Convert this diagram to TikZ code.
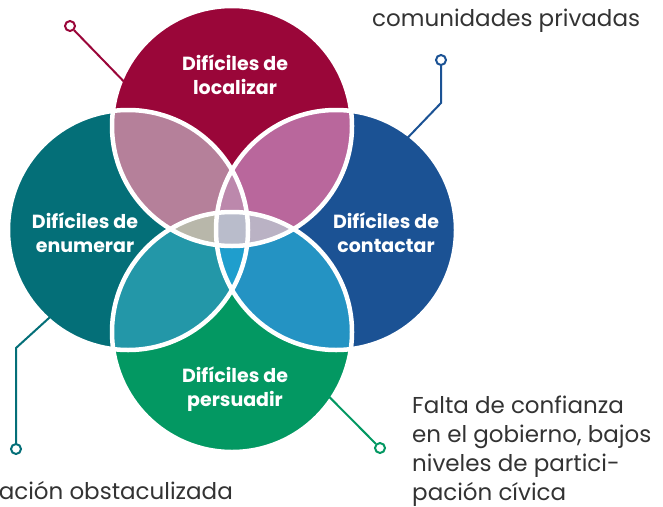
\documentclass[tikz,border=0pt]{standalone}
\usepackage{fontspec}
\setmainfont{Poppins}
\definecolor{locRed}{HTML}{9A0639}
\definecolor{enuTeal}{HTML}{046F78}
\definecolor{conBlue}{HTML}{1B5294}
\definecolor{perGreen}{HTML}{039862}
\definecolor{locEnu}{HTML}{B5809A}
\definecolor{locCon}{HTML}{B9679C}
\definecolor{enuPer}{HTML}{2397A8}
\definecolor{conPer}{HTML}{2493C3}
\definecolor{locEnuCon}{HTML}{BC88AC}
\definecolor{enuConPer}{HTML}{1F9ECD}
\definecolor{locEnuPer}{HTML}{B8B7AA}
\definecolor{locConPer}{HTML}{BAB2C4}
\definecolor{allFour}{HTML}{B9BCCB}
\definecolor{noteGray}{HTML}{333333}
\begin{document}
\begin{tikzpicture}[x = 1pt, y = -1pt, font = \fontsize{23}{29}\selectfont]
	\tikzstyle{vennStyle} = [shape = circle, minimum size = 240pt, inner sep = 0pt, outer sep = 0pt, draw = white, line width = 4.5pt]
	\tikzstyle{labelStyle} = [align = center, text = white, font = \fontsize{19}{24}\selectfont\bfseries]
	\tikzstyle{dotStyle} = [shape = circle, minimum size = 10pt, inner sep = 0pt, draw, line width = 2pt, fill = white]
	\tikzstyle{lineStyle} = [line width = 2pt, shorten <= -3pt]
	\tikzstyle{noteStyle} = [align = left, text = noteGray, anchor = base west, inner sep = 0pt]
	\useasboundingbox (0,0) rectangle (663,506);
	\coordinate (cLoc) at (232,126);
	\coordinate (cEnu) at (128,230);
	\coordinate (cCon) at (336,230);
	\coordinate (cPer) at (232,332);
	\fill[locRed] (cLoc) circle (120);
	\fill[enuTeal] (cEnu) circle (120);
	\fill[conBlue] (cCon) circle (120);
	\fill[perGreen] (cPer) circle (120);
	\begin{scope}
		\clip (cLoc) circle (120);
		\fill[locEnu] (cEnu) circle (120);
		\fill[locCon] (cCon) circle (120);
	\end{scope}
	\begin{scope}
		\clip (cPer) circle (120);
		\fill[enuPer] (cEnu) circle (120);
		\fill[conPer] (cCon) circle (120);
		\clip (cLoc) circle (120);
		\fill[locEnuPer] (cEnu) circle (120);
		\fill[locConPer] (cCon) circle (120);
	\end{scope}
	\begin{scope}
		\clip (cEnu) circle (120);
		\clip (cCon) circle (120);
		\fill[locEnuCon] (cLoc) circle (120);
		\fill[enuConPer] (cPer) circle (120);
		\clip (cLoc) circle (120);
		\fill[allFour] (cPer) circle (120);
	\end{scope}
	\node[vennStyle] (loc) at (cLoc) {};
	\node[vennStyle] (enu) at (cEnu) {};
	\node[vennStyle] (con) at (cCon) {};
	\node[vennStyle] (per) at (cPer) {};
	\node[labelStyle] (locLabel) at (235,75) {Difíciles de\\localizar};
	\node[labelStyle] (enuLabel) at (85,233) {Difíciles de\\enumerar};
	\node[labelStyle] (conLabel) at (386,233) {Difíciles de\\contactar};
	\node[labelStyle] (perLabel) at (235,389) {Difíciles de\\persuadir};
	\node[dotStyle, draw = locRed] (locDot) at (70,26) {};
	\node[dotStyle, draw = conBlue] (conDot) at (441,60) {};
	\node[dotStyle, draw = enuTeal] (enuDot) at (16,449) {};
	\node[dotStyle, draw = perGreen] (perDot) at (380,448) {};
	\draw[lineStyle, locRed] (loc.157) -- (locDot);
	\draw[lineStyle, conBlue] (con.52) -- (441,103) -- (conDot);
	\draw[lineStyle, enuTeal] (enu.228) -- (16,348) -- (enuDot);
	\draw[lineStyle, perGreen] (per.326) -- (perDot);
	\node[noteStyle] (conNote) at (372,27) {comunidades privadas};
	\node[noteStyle] (perNote) at (412,500) {Falta de confianza\\en el gobierno, bajos\\niveles de partici-\\pación cívica};
	\node[noteStyle, anchor = base east] (enuNote) at (233,499) {ación obstaculizada};
\end{tikzpicture}
\end{document}
